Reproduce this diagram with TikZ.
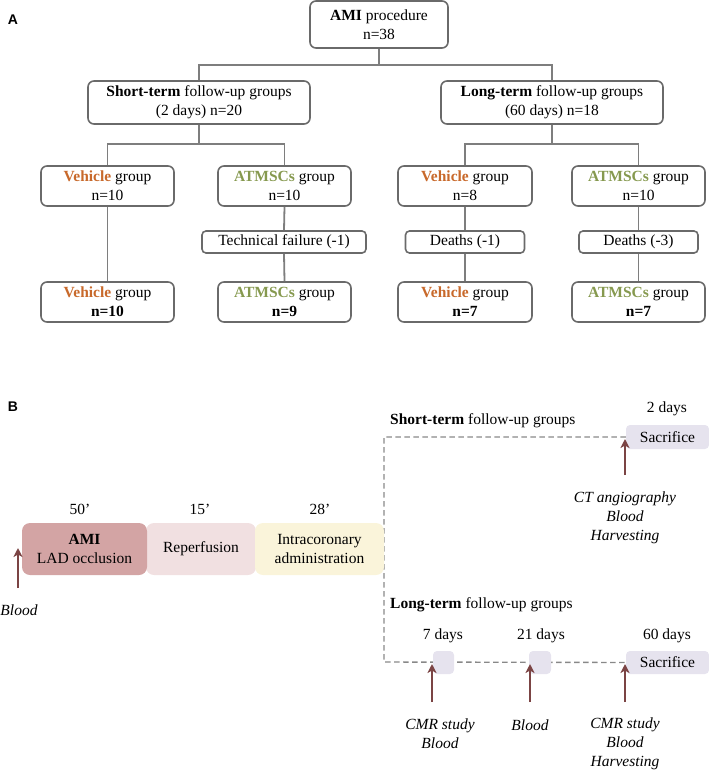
\documentclass[tikz,border=0pt]{standalone}
\usepackage{fontspec}
\setmainfont{Liberation Serif}
\newfontfamily\labelfont{Liberation Sans}
\usetikzlibrary{arrows.meta}
\definecolor{vehc}{HTML}{C8692B}
\definecolor{atmc}{HTML}{86994F}
\definecolor{boxc}{HTML}{6A6A6A}
\definecolor{linec}{HTML}{7E7E7E}
\definecolor{amic}{HTML}{D3A4A4}
\definecolor{repc}{HTML}{F1E0E1}
\definecolor{intc}{HTML}{FAF4DA}
\definecolor{sacc}{HTML}{E6E3EE}
\definecolor{arrc}{HTML}{7B4444}
\definecolor{dashc}{HTML}{888888}
\newcommand{\veh}{\textcolor{vehc}{\textbf{Vehicle}}}
\newcommand{\atm}{\textcolor{atmc}{\textbf{ATMSCs}}}
\begin{document}
\begin{tikzpicture}[x=1pt,y=-1pt,
  every node/.style={font=\fontsize{15.5}{19}\selectfont, inner sep=0pt},
  fbox/.style={draw=boxc, line width=1.6pt, rounded corners=6pt, align=center},
  conn/.style={draw=linec, line width=1.8pt},
  tl/.style={rounded corners=8pt, align=center},
  sac/.style={fill=sacc, rounded corners=4pt},
  up/.style={draw=arrc, line width=1.8pt, -{Stealth[length=9pt,width=9pt,inset=2.5pt]}},
  dl/.style={draw=dashc, line width=1.4pt, dash pattern=on 5.5pt off 3.5pt},
  lbl/.style={font=\labelfont\bfseries\fontsize{14}{16}\selectfont},
  itx/.style={font=\itshape\fontsize{15.5}{19}\selectfont, align=center}
]
\useasboundingbox (0,0) rectangle (709,772);

% ---------------- Panel A ----------------
\node[lbl] (la) at (13,20) {A};

\node[fbox, minimum width=138pt, minimum height=47pt] (ami) at (379,24.5) {\textbf{AMI} procedure\\n=38};
\node[fbox, minimum width=222pt, minimum height=43pt] (st) at (199,102.5) {\textbf{Short-term} follow-up groups\\(2 days) n=20};
\node[fbox, minimum width=222pt, minimum height=43pt] (lt) at (552,102.5) {\textbf{Long-term} follow-up groups\\(60 days) n=18};

\node[fbox, minimum width=133pt, minimum height=40pt] (v1) at (107.5,186) {\veh{} group\\n=10};
\node[fbox, minimum width=133pt, minimum height=40pt] (a1) at (284.5,186) {\atm{} group\\n=10};
\node[fbox, minimum width=134pt, minimum height=40pt] (v2) at (465,186) {\veh{} group\\n=8};
\node[fbox, minimum width=133pt, minimum height=40pt] (a2) at (638.5,186) {\atm{} group\\n=10};

\node[fbox, rounded corners=4pt, minimum width=164pt, minimum height=22pt] (tf) at (284,242) {Technical failure (-1)};
\node[fbox, rounded corners=4pt, minimum width=119pt, minimum height=22pt] (d1) at (465,242) {Deaths (-1)};
\node[fbox, rounded corners=4pt, minimum width=119pt, minimum height=22pt] (d3) at (638.5,242) {Deaths (-3)};

\node[fbox, minimum width=133pt, minimum height=40pt] (v1b) at (107.5,302) {\veh{} group\\\textbf{n=10}};
\node[fbox, minimum width=133pt, minimum height=40pt] (a1b) at (284.5,302) {\atm{} group\\\textbf{n=9}};
\node[fbox, minimum width=134pt, minimum height=40pt] (v2b) at (465,302) {\veh{} group\\\textbf{n=7}};
\node[fbox, minimum width=133pt, minimum height=40pt] (a2b) at (638.5,302) {\atm{} group\\\textbf{n=7}};

\coordinate (j0) at (379,65);
\coordinate (j1) at (199,144);
\coordinate (j2) at (552,144);
\draw[conn] (ami.south) -- (j0);
\draw[conn] (st.north) |- (j0) -| (lt.north);
\draw[conn] (st.south) -- (j1);
\draw[conn] (v1.north) |- (j1) -| (a1.north);
\draw[conn] (lt.south) -- (j2);
\draw[conn] (v2.north) |- (j2) -| (a2.north);
\draw[conn] (v1.south) -- (v1b.north);
\draw[conn] (a1.south) -- (tf.north);
\draw[conn] (tf.south) -- (a1b.north);
\draw[conn] (v2.south) -- (d1.north);
\draw[conn] (d1.south) -- (v2b.north);
\draw[conn] (a2.south) -- (d3.north);
\draw[conn] (d3.south) -- (a2b.north);

% ---------------- Panel B ----------------
\node[lbl] (lb) at (13,407) {B};

\coordinate (dtop) at (384,437);
\coordinate (dbot) at (384,662);
\node[sac, minimum width=83pt, minimum height=24pt] (sacs) at (667.5,437) {Sacrifice};
\node[sac, minimum width=83pt, minimum height=23pt] (sacl) at (667.5,662.5) {Sacrifice};
\draw[dl] (sacs.west) -- (dtop) -- (dbot) -- (sacl.west);
\node[sac, minimum width=21pt, minimum height=23pt] (s7) at (443.5,662.5) {};
\node[sac, minimum width=22pt, minimum height=23pt] (s21) at (540,662.5) {};

\node[tl, fill=repc, minimum width=110pt, minimum height=52pt] (rep) at (201,549) {Reperfusion};
\node[tl, fill=intc, minimum width=129pt, minimum height=52pt] (int) at (319.5,549) {Intracoronary\\administration};
\node[tl, fill=amic, minimum width=125pt, minimum height=52pt] (amib) at (84.5,549) {\textbf{AMI}\\LAD occlusion};

\node (t50) at (80,509) {50’};
\node (t15) at (200,509) {15’};
\node (t28) at (320,509) {28’};

\node[anchor=west] (stl) at (390,421) {\textbf{Short-term} follow-up groups};
\node (d2) at (667,409) {2 days};
\node[anchor=west] (ltl) at (390,605) {\textbf{Long-term} follow-up groups};
\node (d7) at (443,636) {7 days};
\node (d21) at (541,636) {21 days};
\node (d60) at (667,636) {60 days};

\coordinate (b0s) at (18,588);
\coordinate (b0e) at (18,548);
\draw[up] (b0s) -- (b0e);
\node[itx] (blood0) at (19,610) {Blood};

\coordinate (c1s) at (625,475);
\coordinate (c1e) at (625,439);
\draw[up] (c1s) -- (c1e);
\node[itx] (ct) at (625,518) {CT angiography\\Blood\\Harvesting};

\coordinate (e1s) at (432,702);
\coordinate (e1e) at (432,664);
\coordinate (e2s) at (530,702);
\coordinate (e2e) at (530,664);
\coordinate (e3s) at (625,702);
\coordinate (e3e) at (625,664);
\draw[up] (e1s) -- (e1e);
\draw[up] (e2s) -- (e2e);
\draw[up] (e3s) -- (e3e);
\node[itx] (m7) at (440,734) {CMR study\\Blood};
\node[itx] (m21) at (530,725) {Blood};
\node[itx] (m60) at (625,744) {CMR study\\Blood\\Harvesting};
\end{tikzpicture}
\end{document}
